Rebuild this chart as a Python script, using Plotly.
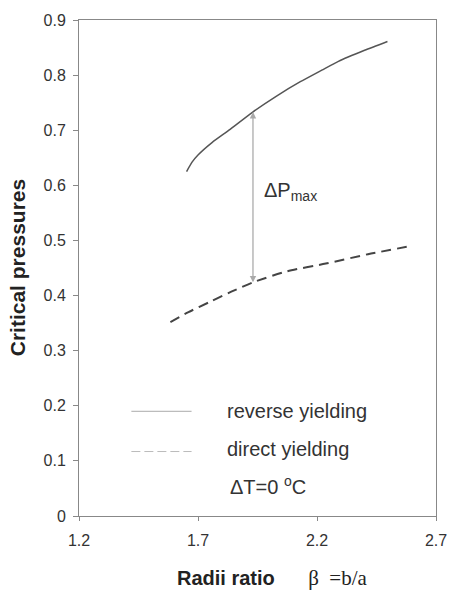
import plotly.graph_objects as go

# Data
beta_reverse = [1.652, 1.675, 1.70, 1.76, 1.83, 1.93, 2.03, 2.13, 2.22, 2.29, 2.40, 2.496]
p_reverse = [0.625, 0.642, 0.655, 0.678, 0.700, 0.733, 0.762, 0.788, 0.809, 0.825, 0.845, 0.861]

beta_direct = [1.584, 1.66, 1.747, 1.84, 1.931, 2.074, 2.237, 2.414, 2.597]
p_direct = [0.352, 0.370, 0.388, 0.407, 0.424, 0.444, 0.458, 0.475, 0.490]

x_ticks = [1.2, 1.7, 2.2, 2.7]
y_ticks = [0, 0.1, 0.2, 0.3, 0.4, 0.5, 0.6, 0.7, 0.8, 0.9]

arrow_x = 1.931
arrow_top = 0.733
arrow_bottom = 0.424

fig = go.Figure()
fig.add_trace(go.Scatter(x=beta_reverse, y=p_reverse, mode="lines",
                         line=dict(color="#555555", width=1.5, shape="spline", smoothing=0.6),
                         showlegend=False, hoverinfo="skip"))
fig.add_trace(go.Scatter(x=beta_direct, y=p_direct, mode="lines",
                         line=dict(color="#444444", width=2, dash="10px,6px", shape="spline", smoothing=0.6),
                         showlegend=False, hoverinfo="skip"))

# double-headed arrow
for (y0, y1) in [(arrow_bottom, arrow_top), (arrow_top, arrow_bottom)]:
    fig.add_annotation(x=arrow_x, y=y1, ax=arrow_x, ay=y0, xref="x", yref="y",
                       axref="x", ayref="y", text="", showarrow=True,
                       arrowhead=2, arrowsize=1.6, arrowwidth=0.8, arrowcolor="#aaaaaa")

fig.add_annotation(x=1.968, y=0.588, xref="x", yref="y", text="ΔP<sub>max</sub>",
                   showarrow=False, xanchor="left", font=dict(family="Arial", size=20, color="#333333"))

# legend drawn in-plot
fig.add_shape(type="line", x0=1.42, x1=1.673, y0=0.19, y1=0.19, xref="x", yref="y",
              line=dict(color="#aaaaaa", width=1))
fig.add_shape(type="line", x0=1.42, x1=1.673, y0=0.117, y1=0.117, xref="x", yref="y",
              line=dict(color="#bbbbbb", width=1, dash="9px,4px"))
fig.add_annotation(x=1.815, y=0.19, xref="x", yref="y", text="reverse yielding", showarrow=False,
                   xanchor="left", font=dict(family="Arial", size=20, color="#333333"))
fig.add_annotation(x=1.815, y=0.122, xref="x", yref="y", text="direct yielding", showarrow=False,
                   xanchor="left", font=dict(family="Arial", size=20, color="#333333"))
fig.add_annotation(x=1.825, y=0.055, xref="x", yref="y", text="ΔT=0 <sup>o</sup>C", showarrow=False,
                   xanchor="left", font=dict(family="Arial", size=20, color="#333333"))

# axis titles
fig.add_annotation(x=0.541, y=-0.125, xref="paper", yref="paper", yanchor="middle",
                   text="<b>Radii ratio</b>      <span style='font-family:Liberation Serif, Times New Roman, serif;font-size:21px'>β  =b/a</span>",
                   showarrow=False, font=dict(family="Arial", size=20, color="#222222"))
fig.add_annotation(x=-0.173, y=0.5, xref="paper", yref="paper", textangle=-90,
                   xanchor="center", yanchor="middle",
                   text="<b>Critical pressures</b>", showarrow=False,
                   font=dict(family="Arial", size=21, color="#222222"))

fig.update_layout(
    width=459, height=592,
    margin=dict(l=79, r=12, t=15, b=76),
    paper_bgcolor="white", plot_bgcolor="white",
    xaxis=dict(range=[1.2, 2.7], tickvals=x_ticks, ticktext=[f"{v:.1f}" for v in x_ticks],
               showgrid=False, zeroline=False, showline=True, linecolor="#888888", linewidth=1,
               mirror=True, ticks="outside", ticklen=4, tickcolor="#888888",
               ticklabelstandoff=6,
               tickfont=dict(family="Arial", size=16, color="#333333")),
    yaxis=dict(range=[0, 0.9], tickvals=y_ticks,
               ticktext=["0" if v == 0 else f"{v:.1f}" for v in y_ticks],
               showgrid=False, zeroline=False, showline=True, linecolor="#888888", linewidth=1,
               mirror=True, ticks="outside", ticklen=5, tickcolor="#888888",
               ticklabelstandoff=4,
               tickfont=dict(family="Arial", size=16, color="#333333")),
)

fig.write_html("out.html")
